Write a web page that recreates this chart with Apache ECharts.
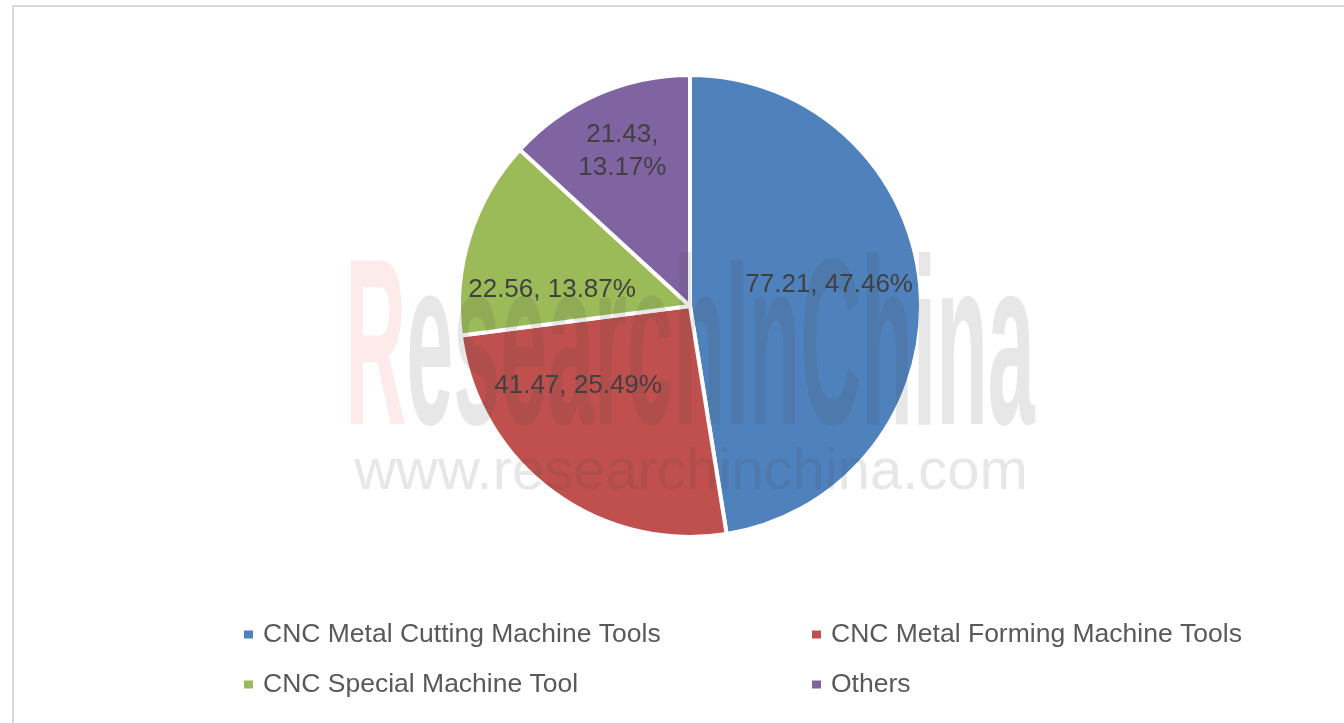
<!DOCTYPE html>
<html>
<head>
<meta charset="utf-8">
<script src="https://cdn.jsdelivr.net/npm/echarts@6/dist/echarts.min.js"></script>
<style>
  html, body { margin: 0; padding: 0; background: #ffffff; }
  #chart { width: 1344px; height: 723px; }
</style>
</head>
<body>
<div id="chart"></div>
<script>
// categories and values
var categories = [
  'CNC Metal Cutting Machine Tools',
  'CNC Metal Forming Machine Tools',
  'CNC Special Machine Tool',
  'Others'
];
var values = [77.21, 41.47, 22.56, 21.43];

var colors = ['#4f81bd', '#c0504d', '#9bbb59', '#8064a2'];
// nudges so the labels sit where Excel put them
var labelOffsets = [[21, -12], [-41, -15], [-25, 20], [-20, -46]];
// legend slots: [left, top]
var legendSlots = [[242, 621], [810, 621], [242, 671], [810, 671]];

var total = values.reduce(function (a, b) { return a + b; }, 0);

var chart = echarts.init(document.getElementById('chart'));

var legends = categories.map(function (name, i) {
  return {
    data: [name],
    left: legendSlots[i][0],
    top: legendSlots[i][1],
    padding: 0,
    icon: 'rect',
    itemWidth: 11,
    itemHeight: 10,
    selectedMode: false,
    textStyle: {
      fontFamily: 'Liberation Sans',
      fontSize: 26.5,
      color: '#595959',
      padding: [0, 0, 0, 4]
    }
  };
});

var pieData = values.map(function (v, i) {
  return {
    name: categories[i],
    value: v,
    itemStyle: { color: colors[i] },
    label: { offset: labelOffsets[i] }
  };
});

var option = {
  backgroundColor: '#ffffff',
  animation: false,
  legend: legends,
  graphic: [
    {
      type: 'rect',
      shape: { x: 13, y: 6, width: 1340, height: 730 },
      style: { fill: 'none', stroke: '#d9d9d9', lineWidth: 2 },
      z: 0
    },
    {
      type: 'text',
      x: 690,
      y: 359,
      scaleX: 0.356,
      z: 100,
      style: {
        text: '{r|R}{g|esearchInChina}',
        textAlign: 'center',
        textVerticalAlign: 'middle',
        font: 'bold 237px "Liberation Sans"',
        rich: {
          r: { font: 'bold 237px "Liberation Sans"', fill: 'rgba(235,90,90,0.12)' },
          g: { font: 'bold 237px "Liberation Sans"', fill: 'rgba(70,70,70,0.13)' }
        }
      }
    },
    {
      type: 'text',
      x: 691,
      y: 473,
      z: 100,
      style: {
        text: 'www.researchinchina.com',
        textAlign: 'center',
        textVerticalAlign: 'middle',
        font: '58px "Liberation Sans"',
        fill: 'rgba(70,70,70,0.13)'
      }
    }
  ],
  series: [
    {
      type: 'pie',
      center: [690, 306],
      radius: 231,
      startAngle: 90,
      clockwise: true,
      silent: true,
      itemStyle: { borderColor: '#ffffff', borderWidth: 4 },
      label: {
        show: true,
        position: 'inside',
        formatter: function (p) {
          var pct = (p.value / total * 100).toFixed(2) + '%';
          var sep = p.dataIndex === 3 ? ',\n' : ', ';
          return p.value.toFixed(2) + sep + pct;
        },
        fontFamily: 'Liberation Sans',
        fontSize: 26,
        lineHeight: 33,
        color: '#404040'
      },
      labelLine: { show: false },
      data: pieData
    }
  ]
};

chart.setOption(option);
</script>
</body>
</html>
